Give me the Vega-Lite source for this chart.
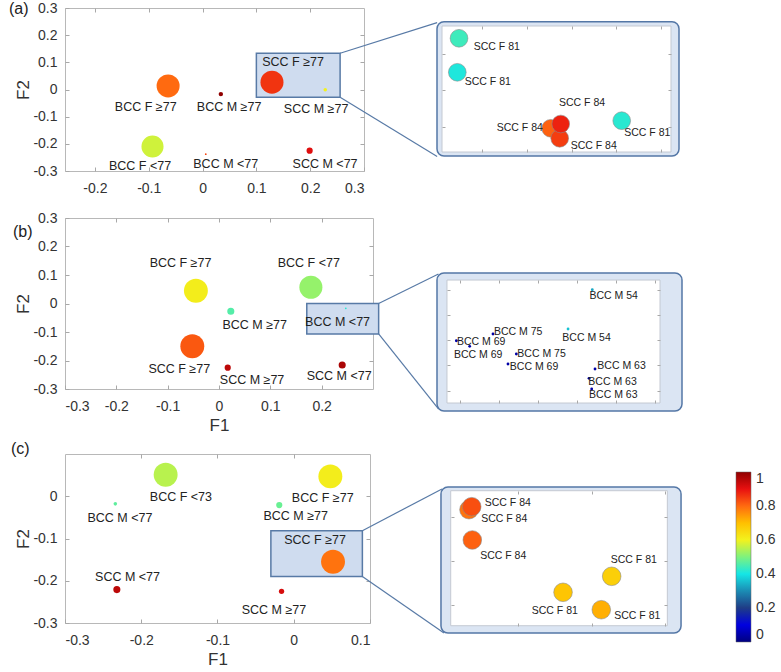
{
 "$schema": "https://vega.github.io/schema/vega-lite/v6.json",
 "background": "white",
 "padding": {"left": 8, "top": 0, "right": 5, "bottom": 5},
 "columns": 2,
 "spacing": {"row": 47, "column": 64},
 "bounds": "flush",
 "align": "each",
 "config": {
  "locale": {"number": {"decimal": ".", "thousands": ",", "grouping": [3], "currency": ["$", ""], "minus": "-"}},
  "view": {"stroke": "#b8b8b8", "strokeWidth": 1},
  "axis": {"grid": false, "domain": false, "tickColor": "#a8a8a8", "tickSize": -4, "tickWidth": 1, "labelFont": "Liberation Sans", "labelFontSize": 14, "labelColor": "#333333", "titleFont": "Liberation Sans", "titleFontSize": 17, "titleFontWeight": "normal", "titleColor": "#333333", "format": ".1~f"},
  "axisX": {"labelPadding": 14},
  "axisY": {"labelPadding": 12, "titlePadding": 0},
  "text": {"font": "Liberation Sans", "color": "#222222"},
  "title": {"font": "Liberation Sans", "fontSize": 16, "fontWeight": "normal", "color": "#222222", "anchor": "start", "frame": "group"}
 },
 "datasets": {
  "a_main": [
   {"label": "BCC F ≥77", "F1": -0.064, "F2": 0.013, "lx": -0.1056, "ly": -0.0629, "v": 0.80, "n": 100},
   {"label": "BCC M ≥77", "F1": 0.034, "F2": -0.017, "lx": 0.0493, "ly": -0.064, "v": 1.0, "n": 3.7},
   {"label": "SCC F ≥77", "F1": 0.129, "F2": 0.027, "lx": 0.1682, "ly": 0.1015, "v": 0.86, "n": 100},
   {"label": "SCC M ≥77", "F1": 0.228, "F2": -0.001, "lx": 0.211, "ly": -0.0713, "v": 0.60, "n": 2.4},
   {"label": "BCC F <77", "F1": -0.093, "F2": -0.210, "lx": -0.1162, "ly": -0.2798, "v": 0.57, "n": 92},
   {"label": "BCC M <77", "F1": 0.006, "F2": -0.238, "lx": 0.0431, "ly": -0.2735, "v": 0.84, "n": 0.6},
   {"label": "SCC M <77", "F1": 0.199, "F2": -0.225, "lx": 0.2277, "ly": -0.2735, "v": 0.91, "n": 7.2}
  ],
  "a_inset": [
   {"label": "SCC F 84", "F1": 0.12535, "F2": 0.00953, "lx": 0.11845, "ly": 0.00956, "v": 0.81},
   {"label": "SCC F 84", "F1": 0.12736, "F2": 0.00678, "lx": 0.13496, "ly": 0.00474, "v": 0.85},
   {"label": "SCC F 84", "F1": 0.12759, "F2": 0.01072, "lx": 0.13235, "ly": 0.01642, "v": 0.88},
   {"label": "SCC F 81", "F1": 0.10486, "F2": 0.03433, "lx": 0.1133, "ly": 0.03185, "v": 0.44},
   {"label": "SCC F 81", "F1": 0.10448, "F2": 0.02496, "lx": 0.1113, "ly": 0.0222, "v": 0.41},
   {"label": "SCC F 81", "F1": 0.14122, "F2": 0.01163, "lx": 0.14694, "ly": 0.00815, "v": 0.42}
  ],
  "b_main": [
   {"label": "BCC F ≥77", "F1": -0.045, "F2": 0.045, "lx": -0.075, "ly": 0.141, "v": 0.61, "n": 108},
   {"label": "BCC F <77", "F1": 0.179, "F2": 0.057, "lx": 0.175, "ly": 0.141, "v": 0.52, "n": 100},
   {"label": "BCC M ≥77", "F1": 0.023, "F2": -0.027, "lx": 0.0696, "ly": -0.074, "v": 0.46, "n": 9.5},
   {"label": "BCC M <77", "F1": 0.247, "F2": -0.017, "lx": 0.231, "ly": -0.066, "v": 0.42, "n": 0.6},
   {"label": "SCC F ≥77", "F1": -0.052, "F2": -0.150, "lx": -0.0774, "ly": -0.230, "v": 0.82, "n": 108},
   {"label": "SCC M ≥77", "F1": 0.017, "F2": -0.225, "lx": 0.0644, "ly": -0.268, "v": 0.95, "n": 7.2},
   {"label": "SCC M <77", "F1": 0.240, "F2": -0.216, "lx": 0.234, "ly": -0.253, "v": 0.97, "n": 9.5}
  ],
  "b_inset": [
   {"label": "BCC M 54", "F1": 0.25196, "F2": -0.005, "lx": 0.25471, "ly": -0.00619, "v": 0.33},
   {"label": "BCC M 54", "F1": 0.24885, "F2": -0.0128, "lx": 0.25122, "ly": -0.01458, "v": 0.36},
   {"label": "BCC M 75", "F1": 0.23923, "F2": -0.01379, "lx": 0.24246, "ly": -0.01345, "v": 0.04},
   {"label": "BCC M 69", "F1": 0.23453, "F2": -0.01512, "lx": 0.23772, "ly": -0.01544, "v": 0.04},
   {"label": "BCC M 69", "F1": 0.23624, "F2": -0.01623, "lx": 0.23733, "ly": -0.01796, "v": 0.04},
   {"label": "BCC M 75", "F1": 0.24222, "F2": -0.01776, "lx": 0.24545, "ly": -0.01782, "v": 0.04},
   {"label": "BCC M 69", "F1": 0.24115, "F2": -0.01974, "lx": 0.24449, "ly": -0.02028, "v": 0.04},
   {"label": "BCC M 63", "F1": 0.25231, "F2": -0.02073, "lx": 0.25571, "ly": -0.0202, "v": 0.04},
   {"label": "BCC M 63", "F1": 0.25154, "F2": -0.02258, "lx": 0.25456, "ly": -0.02337, "v": 0.04},
   {"label": "BCC M 63", "F1": 0.25188, "F2": -0.0247, "lx": 0.25465, "ly": -0.02589, "v": 0.04}
  ],
  "c_main": [
   {"label": "BCC F <73", "F1": -0.168, "F2": 0.051, "lx": -0.148, "ly": -0.0025, "v": 0.55, "n": 108},
   {"label": "BCC F ≥77", "F1": 0.048, "F2": 0.047, "lx": 0.038, "ly": -0.005, "v": 0.61, "n": 108},
   {"label": "BCC M <77", "F1": -0.234, "F2": -0.018, "lx": -0.228, "ly": -0.0515, "v": 0.47, "n": 2.4},
   {"label": "BCC M ≥77", "F1": -0.019, "F2": -0.021, "lx": 0.0026, "ly": -0.046, "v": 0.48, "n": 7.2},
   {"label": "SCC F ≥77", "F1": 0.0515, "F2": -0.155, "lx": 0.028, "ly": -0.103, "v": 0.79, "n": 108},
   {"label": "SCC M <77", "F1": -0.232, "F2": -0.221, "lx": -0.218, "ly": -0.190, "v": 0.95, "n": 9.5},
   {"label": "SCC M ≥77", "F1": -0.016, "F2": -0.225, "lx": -0.026, "ly": -0.269, "v": 0.92, "n": 5.3}
  ],
  "c_inset": [
   {"label": "SCC F 84", "F1": 0.03335, "F2": -0.13826, "lx": 0.03813, "ly": -0.14039, "v": 0.79},
   {"label": "SCC F 84", "F1": 0.03372, "F2": -0.13758, "lx": 0.03862, "ly": -0.1368, "v": 0.83},
   {"label": "SCC F 84", "F1": 0.0338, "F2": -0.14518, "lx": 0.03799, "ly": -0.14877, "v": 0.81},
   {"label": "SCC F 81", "F1": 0.05271, "F2": -0.15347, "lx": 0.05571, "ly": -0.14968, "v": 0.67},
   {"label": "SCC F 81", "F1": 0.04611, "F2": -0.15712, "lx": 0.04499, "ly": -0.16132, "v": 0.69},
   {"label": "SCC F 81", "F1": 0.0513, "F2": -0.1611, "lx": 0.05619, "ly": -0.1626, "v": 0.72}
  ]
 },
 "concat": [
  {
   "width": 299, "height": 163,
   "title": {"text": "(a)", "dx": -56, "dy": 29, "offset": 0, "baseline": "alphabetic"},
   "layer": [
    {"data": {"values": [{"x1": 0.1, "x2": 0.2556, "y1": 0.1335, "y2": -0.0283}]},
     "mark": {"type": "rect", "fill": "#cfdcef", "stroke": "#587aa6", "strokeWidth": 1.5},
     "encoding": {"x": {"field": "x1", "type": "quantitative", "scale": {"domain": [-0.2556, 0.3], "nice": false, "zero": false}, "axis": null}, "x2": {"field": "x2"},
                  "y": {"field": "y1", "type": "quantitative", "scale": {"domain": [-0.3, 0.3], "nice": false, "zero": false}, "axis": null}, "y2": {"field": "y2"}}},
    {"data": {"values": [{"x1": 0.2556, "y1": 0.1335, "x2": 0.4359, "y2": 0.246}, {"x1": 0.2556, "y1": -0.0283, "x2": 0.4359, "y2": -0.2467}]},
     "mark": {"type": "rule", "stroke": "#587aa6", "strokeWidth": 1.2},
     "encoding": {"x": {"field": "x1", "type": "quantitative", "scale": {"domain": [-0.2556, 0.3], "nice": false, "zero": false}, "axis": null}, "x2": {"field": "x2"},
                  "y": {"field": "y1", "type": "quantitative", "scale": {"domain": [-0.3, 0.3], "nice": false, "zero": false}, "axis": null}, "y2": {"field": "y2"}}},
    {"data": {"name": "a_main"},
     "mark": {"type": "circle", "opacity": 1},
     "encoding": {
      "x": {"field": "F1", "type": "quantitative", "scale": {"domain": [-0.2556, 0.3], "nice": false, "zero": false}, "axis": {"orient": "bottom", "values": [-0.2, -0.1, 0, 0.1, 0.2, 0.3], "title": null}},
      "y": {"field": "F2", "type": "quantitative", "scale": {"domain": [-0.3, 0.3], "nice": false, "zero": false}, "axis": {"orient": "left", "values": [-0.3, -0.2, -0.1, 0, 0.1, 0.2, 0.3], "title": "F2"}},
      "color": {"field": "v", "type": "quantitative",
                "scale": {"type": "linear", "domain": [0, 0.1, 0.2, 0.3, 0.4, 0.5, 0.6, 0.7, 0.8, 0.9, 1], "range": ["#00007f", "#0000e0", "#1f3c86", "#1b8cb4", "#14e6e6", "#7ef27e", "#f2f21e", "#ffc000", "#ff6a10", "#e81010", "#900000"], "interpolate": "rgb", "nice": false, "zero": false},
                "legend": {"orient": "none", "legendX": 671, "legendY": 464, "direction": "vertical", "title": null, "gradientLength": 170, "gradientThickness": 15, "values": [0, 0.2, 0.4, 0.6, 0.8, 1], "format": ".1~f", "labelFontSize": 14, "labelFont": "Liberation Sans", "labelColor": "#333333", "labelOffset": 5, "labelOverlap": false, "labelBaseline": "middle", "padding": 0, "gradientStrokeColor": "#666666", "gradientStrokeWidth": 0.5}},
      "size": {"field": "n", "type": "quantitative", "scale": {"domain": [0, 100], "range": [0, 530]}, "legend": null}}},
    {"data": {"name": "a_main"},
     "mark": {"type": "text", "fontSize": 12.5},
     "encoding": {
      "x": {"field": "lx", "type": "quantitative", "scale": {"domain": [-0.2556, 0.3], "nice": false, "zero": false}, "axis": {"orient": "top", "values": [-0.2, -0.1, 0, 0.1, 0.2], "labels": false, "title": null}},
      "y": {"field": "ly", "type": "quantitative", "scale": {"domain": [-0.3, 0.3], "nice": false, "zero": false}, "axis": {"orient": "right", "values": [-0.2, -0.1, 0, 0.1, 0.2], "labels": false, "title": null}},
      "text": {"field": "label"}}}
   ],
   "resolve": {"axis": {"x": "independent", "y": "independent"}}
  },
  {
   "width": 245, "height": 163, "view": {"stroke": null},
   "layer": [
    {"data": {"values": [{"x1": 0.09994, "x2": 0.15402, "y1": 0.0019, "y2": 0.0389}]},
     "mark": {"type": "rect", "fill": "#dbe5f3", "stroke": "#5477a6", "strokeWidth": 1.5, "cornerRadius": 7},
     "encoding": {"x": {"field": "x1", "type": "quantitative", "scale": {"domain": [0.09994, 0.15469], "nice": false, "zero": false}, "axis": null}, "x2": {"field": "x2"},
                  "y": {"field": "y1", "type": "quantitative", "scale": {"domain": [-0.00223, 0.04267], "nice": false, "zero": false}, "axis": null}, "y2": {"field": "y2"}}},
    {"data": {"values": [{"x1": 0.10106, "x2": 0.15223, "y1": 0.0030, "y2": 0.03771}]},
     "mark": {"type": "rect", "fill": "white", "stroke": "#c4c9d2", "strokeWidth": 1},
     "encoding": {"x": {"field": "x1", "type": "quantitative", "scale": {"domain": [0.09994, 0.15469], "nice": false, "zero": false}, "axis": null}, "x2": {"field": "x2"},
                  "y": {"field": "y1", "type": "quantitative", "scale": {"domain": [-0.00223, 0.04267], "nice": false, "zero": false}, "axis": null}, "y2": {"field": "y2"}}},
    {"data": {"name": "a_inset"},
     "mark": {"type": "circle", "size": 314, "opacity": 1, "stroke": "#8c8c8c", "strokeWidth": 0.6},
     "encoding": {
      "x": {"field": "F1", "type": "quantitative", "scale": {"domain": [0.09994, 0.15469], "nice": false, "zero": false}, "axis": {"orient": "top", "offset": -18, "values": [0.11, 0.12, 0.13, 0.14, 0.15], "labels": false, "title": null, "zindex": 1, "tickSize": -3}},
      "y": {"field": "F2", "type": "quantitative", "scale": {"domain": [-0.00223, 0.04267], "nice": false, "zero": false}, "axis": {"orient": "left", "offset": -5, "values": [0.01, 0.02, 0.03], "labels": false, "title": null, "zindex": 1, "tickSize": -3}},
      "color": {"field": "v", "type": "quantitative", "scale": {"type": "linear", "domain": [0, 0.1, 0.2, 0.3, 0.4, 0.5, 0.6, 0.7, 0.8, 0.9, 1], "range": ["#00007f", "#0000e0", "#1f3c86", "#1b8cb4", "#14e6e6", "#7ef27e", "#f2f21e", "#ffc000", "#ff6a10", "#e81010", "#900000"], "interpolate": "rgb", "nice": false, "zero": false}}}},
    {"data": {"name": "a_inset"},
     "mark": {"type": "text", "fontSize": 10.5},
     "encoding": {
      "x": {"field": "lx", "type": "quantitative", "scale": {"domain": [0.09994, 0.15469], "nice": false, "zero": false}, "axis": {"orient": "bottom", "offset": -19, "values": [0.11, 0.12, 0.13, 0.14, 0.15], "labels": false, "title": null, "zindex": 1, "tickSize": -3}},
      "y": {"field": "ly", "type": "quantitative", "scale": {"domain": [-0.00223, 0.04267], "nice": false, "zero": false}, "axis": {"orient": "right", "offset": -11, "values": [0.01, 0.02, 0.03], "labels": false, "title": null, "zindex": 1, "tickSize": -3}},
      "text": {"field": "label"}}}
   ],
   "resolve": {"axis": {"x": "independent", "y": "independent"}}
  },
  {
   "width": 308, "height": 171,
   "title": {"text": "(b)", "dx": -52, "dy": 42, "offset": 0, "baseline": "alphabetic"},
   "layer": [
    {"data": {"values": [{"x1": 0.171, "x2": 0.311, "y1": 0.0, "y2": -0.107}]},
     "mark": {"type": "rect", "fill": "#cfdcef", "stroke": "#587aa6", "strokeWidth": 1.5},
     "encoding": {"x": {"field": "x1", "type": "quantitative", "scale": {"domain": [-0.3, 0.3], "nice": false, "zero": false}, "axis": null}, "x2": {"field": "x2"},
                  "y": {"field": "y1", "type": "quantitative", "scale": {"domain": [-0.3, 0.3], "nice": false, "zero": false}, "axis": null}, "y2": {"field": "y2"}}},
    {"data": {"values": [{"x1": 0.311, "y1": 0.0, "x2": 0.4275, "y2": 0.1035}, {"x1": 0.311, "y1": -0.107, "x2": 0.4275, "y2": -0.370}]},
     "mark": {"type": "rule", "stroke": "#587aa6", "strokeWidth": 1.2},
     "encoding": {"x": {"field": "x1", "type": "quantitative", "scale": {"domain": [-0.3, 0.3], "nice": false, "zero": false}, "axis": null}, "x2": {"field": "x2"},
                  "y": {"field": "y1", "type": "quantitative", "scale": {"domain": [-0.3, 0.3], "nice": false, "zero": false}, "axis": null}, "y2": {"field": "y2"}}},
    {"data": {"name": "b_main"},
     "mark": {"type": "circle", "opacity": 1},
     "encoding": {
      "x": {"field": "F1", "type": "quantitative", "scale": {"domain": [-0.3, 0.3], "nice": false, "zero": false}, "axis": {"orient": "bottom", "values": [-0.3, -0.2, -0.1, 0, 0.1, 0.2], "title": "F1"}},
      "y": {"field": "F2", "type": "quantitative", "scale": {"domain": [-0.3, 0.3], "nice": false, "zero": false}, "axis": {"orient": "left", "values": [-0.3, -0.2, -0.1, 0, 0.1, 0.2, 0.3], "title": "F2"}},
      "color": {"field": "v", "type": "quantitative", "scale": {"type": "linear", "domain": [0, 0.1, 0.2, 0.3, 0.4, 0.5, 0.6, 0.7, 0.8, 0.9, 1], "range": ["#00007f", "#0000e0", "#1f3c86", "#1b8cb4", "#14e6e6", "#7ef27e", "#f2f21e", "#ffc000", "#ff6a10", "#e81010", "#900000"], "interpolate": "rgb", "nice": false, "zero": false}},
      "size": {"field": "n", "type": "quantitative", "scale": {"domain": [0, 100], "range": [0, 530]}, "legend": null}}},
    {"data": {"name": "b_main"},
     "mark": {"type": "text", "fontSize": 12.5},
     "encoding": {
      "x": {"field": "lx", "type": "quantitative", "scale": {"domain": [-0.3, 0.3], "nice": false, "zero": false}, "axis": {"orient": "top", "values": [-0.2, -0.1, 0, 0.1, 0.2], "labels": false, "title": null}},
      "y": {"field": "ly", "type": "quantitative", "scale": {"domain": [-0.3, 0.3], "nice": false, "zero": false}, "axis": {"orient": "right", "values": [-0.2, -0.1, 0, 0.1, 0.2], "labels": false, "title": null}},
      "text": {"field": "label"}}}
   ],
   "resolve": {"axis": {"x": "independent", "y": "independent"}}
  },
  {
   "width": 245, "height": 189, "view": {"stroke": null},
   "layer": [
    {"data": {"values": [{"x1": 0.23205, "x2": 0.26346, "y1": -0.02907, "y2": -0.00168}]},
     "mark": {"type": "rect", "fill": "#dbe5f3", "stroke": "#5477a6", "strokeWidth": 1.5, "cornerRadius": 7},
     "encoding": {"x": {"field": "x1", "type": "quantitative", "scale": {"domain": [0.23205, 0.26346], "nice": false, "zero": false}, "axis": null}, "x2": {"field": "x2"},
                  "y": {"field": "y1", "type": "quantitative", "scale": {"domain": [-0.02827, 0.00923], "nice": false, "zero": false}, "axis": null}, "y2": {"field": "y2"}}},
    {"data": {"values": [{"x1": 0.23333, "x2": 0.26064, "y1": -0.02748, "y2": -0.00308}]},
     "mark": {"type": "rect", "fill": "white", "stroke": "#c4c9d2", "strokeWidth": 1},
     "encoding": {"x": {"field": "x1", "type": "quantitative", "scale": {"domain": [0.23205, 0.26346], "nice": false, "zero": false}, "axis": null}, "x2": {"field": "x2"},
                  "y": {"field": "y1", "type": "quantitative", "scale": {"domain": [-0.02827, 0.00923], "nice": false, "zero": false}, "axis": null}, "y2": {"field": "y2"}}},
    {"data": {"name": "b_inset"},
     "mark": {"type": "circle", "size": 8, "opacity": 1},
     "encoding": {
      "x": {"field": "F1", "type": "quantitative", "scale": {"domain": [0.23205, 0.26346], "nice": false, "zero": false}, "axis": {"orient": "top", "offset": -62, "values": [0.235, 0.24, 0.245, 0.25, 0.255, 0.26], "labels": false, "title": null, "zindex": 1, "tickSize": -3}},
      "y": {"field": "F2", "type": "quantitative", "scale": {"domain": [-0.02827, 0.00923], "nice": false, "zero": false}, "axis": {"orient": "left", "offset": -10, "values": [-0.005, -0.01, -0.015, -0.02, -0.025], "labels": false, "title": null, "zindex": 1, "tickSize": -3}},
      "color": {"field": "v", "type": "quantitative", "scale": {"type": "linear", "domain": [0, 0.1, 0.2, 0.3, 0.4, 0.5, 0.6, 0.7, 0.8, 0.9, 1], "range": ["#00007f", "#0000e0", "#1f3c86", "#1b8cb4", "#14e6e6", "#7ef27e", "#f2f21e", "#ffc000", "#ff6a10", "#e81010", "#900000"], "interpolate": "rgb", "nice": false, "zero": false}}}},
    {"data": {"name": "b_inset"},
     "mark": {"type": "text", "fontSize": 10.5},
     "encoding": {
      "x": {"field": "lx", "type": "quantitative", "scale": {"domain": [0.23205, 0.26346], "nice": false, "zero": false}, "axis": {"orient": "bottom", "offset": -4, "values": [0.235, 0.24, 0.245, 0.25, 0.255, 0.26], "labels": false, "title": null, "zindex": 1, "tickSize": -3}},
      "y": {"field": "ly", "type": "quantitative", "scale": {"domain": [-0.02827, 0.00923], "nice": false, "zero": false}, "axis": {"orient": "right", "offset": -22, "values": [-0.005, -0.01, -0.015, -0.02, -0.025], "labels": false, "title": null, "zindex": 1, "tickSize": -3}},
      "text": {"field": "label"}}}
   ],
   "resolve": {"axis": {"x": "independent", "y": "independent"}}
  },
  {
   "width": 305, "height": 169,
   "title": {"text": "(c)", "dx": -54, "dy": 16, "offset": 0, "baseline": "alphabetic"},
   "layer": [
    {"data": {"values": [{"x1": -0.030, "x2": 0.090, "y1": -0.0815, "y2": -0.190}]},
     "mark": {"type": "rect", "fill": "#cfdcef", "stroke": "#587aa6", "strokeWidth": 1.5},
     "encoding": {"x": {"field": "x1", "type": "quantitative", "scale": {"domain": [-0.3, 0.1], "nice": false, "zero": false}, "axis": null}, "x2": {"field": "x2"},
                  "y": {"field": "y1", "type": "quantitative", "scale": {"domain": [-0.3, 0.1], "nice": false, "zero": false}, "axis": null}, "y2": {"field": "y2"}}},
    {"data": {"values": [{"x1": 0.090, "y1": -0.0815, "x2": 0.1944, "y2": 0.0172}, {"x1": 0.090, "y1": -0.190, "x2": 0.197, "y2": -0.3237}]},
     "mark": {"type": "rule", "stroke": "#587aa6", "strokeWidth": 1.2},
     "encoding": {"x": {"field": "x1", "type": "quantitative", "scale": {"domain": [-0.3, 0.1], "nice": false, "zero": false}, "axis": null}, "x2": {"field": "x2"},
                  "y": {"field": "y1", "type": "quantitative", "scale": {"domain": [-0.3, 0.1], "nice": false, "zero": false}, "axis": null}, "y2": {"field": "y2"}}},
    {"data": {"name": "c_main"},
     "mark": {"type": "circle", "opacity": 1},
     "encoding": {
      "x": {"field": "F1", "type": "quantitative", "scale": {"domain": [-0.3, 0.1], "nice": false, "zero": false}, "axis": {"orient": "bottom", "values": [-0.3, -0.2, -0.1, 0, 0.1], "title": "F1"}},
      "y": {"field": "F2", "type": "quantitative", "scale": {"domain": [-0.3, 0.1], "nice": false, "zero": false}, "axis": {"orient": "left", "values": [-0.3, -0.2, -0.1, 0], "title": "F2"}},
      "color": {"field": "v", "type": "quantitative", "scale": {"type": "linear", "domain": [0, 0.1, 0.2, 0.3, 0.4, 0.5, 0.6, 0.7, 0.8, 0.9, 1], "range": ["#00007f", "#0000e0", "#1f3c86", "#1b8cb4", "#14e6e6", "#7ef27e", "#f2f21e", "#ffc000", "#ff6a10", "#e81010", "#900000"], "interpolate": "rgb", "nice": false, "zero": false}},
      "size": {"field": "n", "type": "quantitative", "scale": {"domain": [0, 100], "range": [0, 530]}, "legend": null}}},
    {"data": {"name": "c_main"},
     "mark": {"type": "text", "fontSize": 12.5},
     "encoding": {
      "x": {"field": "lx", "type": "quantitative", "scale": {"domain": [-0.3, 0.1], "nice": false, "zero": false}, "axis": {"orient": "top", "values": [-0.2, -0.1, 0], "labels": false, "title": null}},
      "y": {"field": "ly", "type": "quantitative", "scale": {"domain": [-0.3, 0.1], "nice": false, "zero": false}, "axis": {"orient": "right", "values": [-0.2, -0.1, 0], "labels": false, "title": null}},
      "text": {"field": "label"}}}
   ],
   "resolve": {"axis": {"x": "independent", "y": "independent"}}
  },
  {
   "width": 245, "height": 169, "view": {"stroke": null},
   "layer": [
    {"data": {"values": [{"x1": 0.02955, "x2": 0.06212, "y1": -0.16642, "y2": -0.13308}]},
     "mark": {"type": "rect", "fill": "#dbe5f3", "stroke": "#5477a6", "strokeWidth": 1.5, "cornerRadius": 7},
     "encoding": {"x": {"field": "x1", "type": "quantitative", "scale": {"domain": [0.02901, 0.06225], "nice": false, "zero": false}, "axis": null}, "x2": {"field": "x2"},
                  "y": {"field": "y1", "type": "quantitative", "scale": {"domain": [-0.16413, -0.12555], "nice": false, "zero": false}, "axis": null}, "y2": {"field": "y2"}}},
    {"data": {"values": [{"x1": 0.03087, "x2": 0.06026, "y1": -0.16475, "y2": -0.13393}]},
     "mark": {"type": "rect", "fill": "white", "stroke": "#c4c9d2", "strokeWidth": 1},
     "encoding": {"x": {"field": "x1", "type": "quantitative", "scale": {"domain": [0.02901, 0.06225], "nice": false, "zero": false}, "axis": null}, "x2": {"field": "x2"},
                  "y": {"field": "y1", "type": "quantitative", "scale": {"domain": [-0.16413, -0.12555], "nice": false, "zero": false}, "axis": null}, "y2": {"field": "y2"}}},
    {"data": {"name": "c_inset"},
     "mark": {"type": "circle", "size": 346, "opacity": 1, "stroke": "#8c8c8c", "strokeWidth": 0.6},
     "encoding": {
      "x": {"field": "F1", "type": "quantitative", "scale": {"domain": [0.02901, 0.06225], "nice": false, "zero": false}, "axis": {"orient": "top", "offset": -37, "values": [0.04, 0.05, 0.06], "labels": false, "title": null, "zindex": 1, "tickSize": -3}},
      "y": {"field": "F2", "type": "quantitative", "scale": {"domain": [-0.16413, -0.12555], "nice": false, "zero": false}, "axis": {"orient": "left", "offset": -14, "values": [-0.14, -0.15, -0.16], "labels": false, "title": null, "zindex": 1, "tickSize": -3}},
      "color": {"field": "v", "type": "quantitative", "scale": {"type": "linear", "domain": [0, 0.1, 0.2, 0.3, 0.4, 0.5, 0.6, 0.7, 0.8, 0.9, 1], "range": ["#00007f", "#0000e0", "#1f3c86", "#1b8cb4", "#14e6e6", "#7ef27e", "#f2f21e", "#ffc000", "#ff6a10", "#e81010", "#900000"], "interpolate": "rgb", "nice": false, "zero": false}}}},
    {"data": {"name": "c_inset"},
     "mark": {"type": "text", "fontSize": 10.5},
     "encoding": {
      "x": {"field": "lx", "type": "quantitative", "scale": {"domain": [0.02901, 0.06225], "nice": false, "zero": false}, "axis": {"orient": "bottom", "offset": 3, "values": [0.04, 0.05, 0.06], "labels": false, "title": null, "zindex": 1, "tickSize": -3}},
      "y": {"field": "ly", "type": "quantitative", "scale": {"domain": [-0.16413, -0.12555], "nice": false, "zero": false}, "axis": {"orient": "right", "offset": -15, "values": [-0.14, -0.15, -0.16], "labels": false, "title": null, "zindex": 1, "tickSize": -3}},
      "text": {"field": "label"}}}
   ],
   "resolve": {"axis": {"x": "independent", "y": "independent"}}
  }
 ]
}
